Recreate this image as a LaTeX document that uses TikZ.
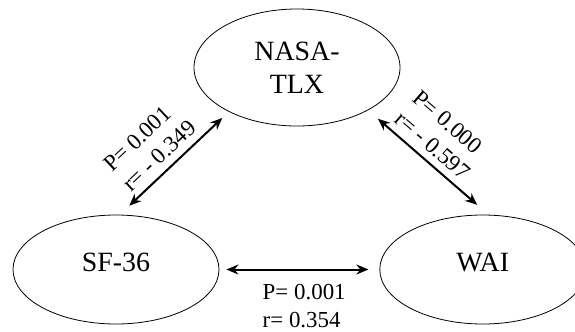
\documentclass[tikz,border=0pt]{standalone}
\usepackage{fontspec}
\setmainfont{Liberation Serif}
\usetikzlibrary{arrows.meta, shapes, positioning}

\begin{document}
\begin{tikzpicture}[x=1bp, y=-1bp, <->, >={Stealth[length=12bp,width=10bp]},
  ell node/.style={ellipse, draw, line width=0.8bp, minimum width=206bp,
    minimum height=109bp, inner sep=1bp, align=center,
    font=\fontsize{28}{33}\selectfont},
  lbl node/.style={inner sep=1bp, align=left, font=\fontsize{23}{27.6}\selectfont}]
  \useasboundingbox (0,0) rectangle (575,331);
  \node[ell node, minimum height=117bp] (nasa) at (297,67.5) {NASA-\\TLX};
  \node[ell node, text depth=14bp] (sf) at (116,269.5) {SF-36};
  \node[ell node, text depth=14bp, right=160bp of sf] (wai) {WAI};
  \path[line width=2bp]
    (sf.86.5) edge[shorten <=13bp, shorten >=9bp]
      node[lbl node, pos=0.46, sloped, above=6bp] {P= 0.001\\r= - 0.349} (nasa.213.8)
    (nasa.329.5) edge[shorten <=13bp, shorten >=15bp]
      node[lbl node, pos=0.45, sloped, above=6bp] {P= 0.000\\r= - 0.597} (wai.84.3)
    (sf.east) edge[shorten <=7bp, shorten >=11bp]
      node[lbl node, pos=0.53, below=13bp] {P= 0.001\\r= 0.354} (wai.west);
\end{tikzpicture}
\end{document}
